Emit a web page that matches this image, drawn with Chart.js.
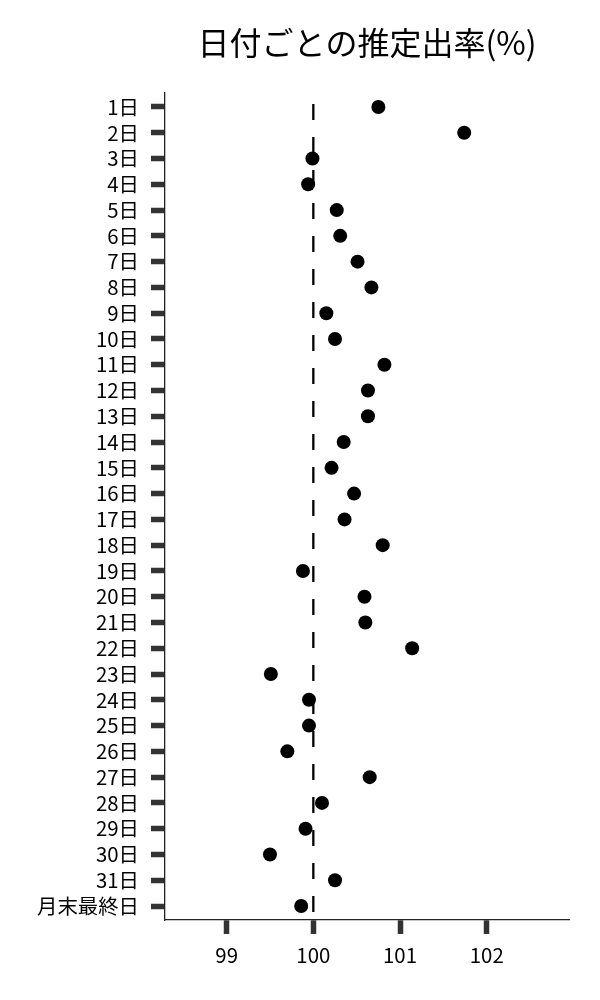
<!DOCTYPE html>
<html lang="ja">
<head>
<meta charset="utf-8">
<script src="https://cdn.jsdelivr.net/npm/chart.js@4/dist/chart.umd.min.js"></script>
<style>
html, body { margin: 0; padding: 0; background: #fff; }
#wrap { width: 600px; height: 1000px; position: relative; }
</style>
</head>
<body>
<div id="wrap"><canvas id="rateChart"></canvas></div>
<script>
const dayLabels = ["1日","2日","3日","4日","5日","6日","7日","8日","9日","10日",
    "11日","12日","13日","14日","15日","16日","17日","18日","19日","20日",
    "21日","22日","23日","24日","25日","26日","27日","28日","29日","30日","31日","月末最終日"];
const rates = [100.75, 101.74, 99.99, 99.94, 100.27, 100.31, 100.51, 100.67, 100.15, 100.25,
    100.82, 100.63, 100.63, 100.35, 100.21, 100.47, 100.36, 100.80, 99.88, 100.59,
    100.60, 101.14, 99.51, 99.95, 99.95, 99.70, 100.65, 100.10, 99.91, 99.50, 100.25, 99.86];
const xTicks = [99, 100, 101, 102];
const refValue = 100;

const font = "'Noto Sans CJK JP', 'Noto Sans', sans-serif";
const yMin = -0.543, yMax = dayLabels.length - 1 + 0.543;

const points = rates.map((v, i) => ({x: v, y: i}));

const axisTicks = {
    drawOnChartArea: false, drawTicks: true,
    tickLength: 14, tickWidth: 5.5, tickColor: "#333"
};

new Chart(document.getElementById("rateChart"), {
    type: "scatter",
    data: {
        datasets: [
            {
                type: "line",
                data: [{x: refValue, y: yMin}, {x: refValue, y: yMax}],
                borderColor: "#000", borderWidth: 2.3,
                borderDash: [16, 17], borderDashOffset: 22,
                pointRadius: 0, order: 2
            },
            {
                data: points,
                backgroundColor: "#000", borderWidth: 0,
                pointRadius: 7, pointHoverRadius: 7, order: 1
            }
        ]
    },
    options: {
        responsive: true, maintainAspectRatio: false,
        animation: false,
        layout: {padding: {left: 0, right: 31, top: 0, bottom: 0}},
        plugins: {
            legend: {display: false},
            tooltip: {enabled: false},
            title: {
                display: true, fullSize: false,
                text: "日付ごとの推定出率(%)",
                color: "#000",
                font: {family: font, size: 32, weight: "normal", lineHeight: 1.2},
                padding: {top: 23.8, bottom: 30.8}
            }
        },
        scales: {
            x: {
                type: "linear", min: 98.289, max: 102.949,
                afterBuildTicks: s => { s.ticks = xTicks.map(v => ({value: v})); },
                afterFit: s => { s.height = 80; },
                ticks: {color: "#000", font: {family: font, size: 20.4}, padding: 9},
                grid: axisTicks,
                border: {display: true, color: "#222", width: 1.3}
            },
            y: {
                type: "linear", reverse: true, min: yMin, max: yMax,
                afterBuildTicks: s => { s.ticks = dayLabels.map((_, i) => ({value: i})); },
                afterFit: s => { s.width = 165; },
                ticks: {
                    color: "#000", font: {family: font, size: 20.4}, padding: 12,
                    autoSkip: false,
                    callback: v => dayLabels[v]
                },
                grid: axisTicks,
                border: {display: true, color: "#222", width: 1.3}
            }
        }
    }
});
</script>
</body>
</html>
